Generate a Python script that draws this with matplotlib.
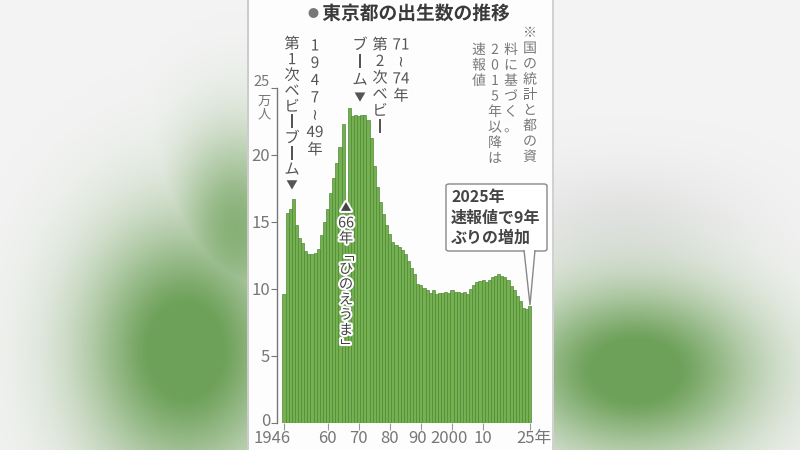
import numpy as np
import matplotlib
matplotlib.use('Agg')
import matplotlib.pyplot as plt
import matplotlib.patheffects as pe
from matplotlib.patches import FancyBboxPatch, Polygon
import matplotlib.transforms as mtransforms

plt.rcParams['font.family'] = ['Noto Sans CJK JP', 'DejaVu Sans']

# 東京都の出生数（万人）1946-2025
years = list(range(1946, 2026))
births = [
    9.6, 15.7, 16.0, 16.7, 14.8, 13.8, 13.4, 12.8, 12.6, 12.6,   # 1946-55
    12.7, 13.0, 14.0, 15.0, 16.0, 17.2, 18.3, 19.4, 20.6, 22.3,  # 1956-65
    16.2, 23.5, 22.9, 23.0, 22.9, 23.0, 23.0, 22.6, 21.3, 19.2,  # 1966-75
    17.6, 16.5, 15.6, 14.8, 14.1, 13.5, 13.3, 13.1, 12.9, 12.6,  # 1976-85
    12.1, 11.6, 11.1, 10.4, 10.3, 10.1, 9.9, 9.7, 9.9, 9.6,      # 1986-95
    9.7, 9.7, 9.8, 9.7, 9.9, 9.8, 9.8, 9.7, 9.8, 9.6,            # 1996-2005
    10.0, 10.3, 10.5, 10.6, 10.7, 10.5, 10.7, 10.9, 11.0, 11.1,  # 2006-15
    11.0, 10.9, 10.7, 10.2, 9.9, 9.5, 9.1, 8.6, 8.5, 8.7,        # 2016-25
]
xtick_years = [1946, 1960, 1970, 1980, 1990, 2000, 2010, 2025]
xtick_labels = ['1946', '60', '70', '80', '90', '2000', '10', '25年']
yticks = [0, 5, 10, 15, 20, 25]

W, H = 800, 450


def fx(x):
    return x / W


def fy(y):
    return 1 - y / H


fig = plt.figure(figsize=(8, 4.5), dpi=100)

# blurred background
bg_ax = fig.add_axes([0, 0, 1, 1], zorder=-10)
yy, xx = np.mgrid[0:H, 0:W]
base = np.full((H, W, 3), 0.955)
green = np.array([0.43, 0.63, 0.35])
g1 = np.exp(-((xx - 185) / 72.0) ** 2 / 2 - ((yy - 350) / 90.0) ** 2 / 2)
g1b = 0.7 * np.exp(-((xx - 235) / 45.0) ** 2 / 2 - ((yy - 230) / 70.0) ** 2 / 2)
g2 = np.exp(-((xx - 635) / 85.0) ** 2 / 2 - ((yy - 370) / 60.0) ** 2 / 2)
gray = 0.06 * np.exp(-((xx - 620) / 90.0) ** 2 / 2 - ((yy - 220) / 40.0) ** 2 / 2)
a = np.clip(1.15 * np.maximum(np.maximum(g1, g1b), g2), 0, 1)[..., None]
img = (base - gray[..., None]) * (1 - a) + green * a
img[:, 248:553, :] = 0.995
img[:, 247:249, :] = 0.8
img[:, 552:554, :] = 0.82
bg_ax.imshow(np.clip(img, 0, 1), aspect='auto', extent=[0, W, H, 0])
bg_ax.axis('off')

# main chart
ax = fig.add_axes([fx(277), fy(423), (540 - 277) / W, (423 - 88) / H])
ax.patch.set_alpha(0)
ax.bar(years, births, width=1.0, color='#74af50', edgecolor='#4f8a37', linewidth=0.5)
ax.set_xlim(1943.75, 2028.3)
ax.set_ylim(0, 25)

for s in ['top', 'right', 'bottom']:
    ax.spines[s].set_visible(False)
ax.spines['left'].set_color('#777777')
ax.spines['left'].set_linewidth(1.0)

ax.set_yticks(yticks)
ax.set_yticklabels(['0', '5', '10', '15', '20', '25'])
ax.tick_params(axis='y', length=4, color='#777777', labelsize=12, labelcolor='#777777', pad=1)
ax.set_xticks(xtick_years)
ax.set_xticklabels(xtick_labels)
ax.tick_params(axis='x', length=5, color='#999999', labelsize=12, labelcolor='#777777', pad=0)

shifts = {'1946': -12, '90': -3, '2000': -3, '25年': 4}
for lab in ax.get_xticklabels():
    if lab.get_text() in shifts:
        off = mtransforms.ScaledTranslation(shifts[lab.get_text()] / 100, 0, fig.dpi_scale_trans)
        lab.set_transform(lab.get_transform() + off)
ylabs = ax.get_yticklabels()
off25 = mtransforms.ScaledTranslation(0, 7 / 100, fig.dpi_scale_trans)
ylabs[-1].set_transform(ylabs[-1].get_transform() + off25)
ylabs[-1].set_fontsize(10.5)
off0 = mtransforms.ScaledTranslation(0, 3 / 100, fig.dpi_scale_trans)
ylabs[0].set_transform(ylabs[0].get_transform() + off0)

halo = [pe.withStroke(linewidth=3, foreground='white')]

fig.text(fx(264), fy(101), '万', fontsize=9.5, color='#777777', ha='center', va='center')
fig.text(fx(264), fy(115), '人', fontsize=9.5, color='#777777', ha='center', va='center')

# title
fig.text(fx(313), fy(14), '●', fontsize=8, color='#777777', ha='center', va='center')
fig.text(fx(416), fy(14), '東京都の出生数の推移', fontsize=13.5, fontweight='bold',
         color='#3a3a3a', ha='center', va='center', path_effects=halo)


def vtext(x, y0, step, tokens, size=11, color='#555555', weight='normal', rot=None):
    rot = rot or {}
    for i, t in enumerate(tokens):
        fs = size * 0.75 if t in ('▼', '▲') else size
        fig.text(fx(x), fy(y0 + i * step), t, fontsize=fs, color=color, fontweight=weight,
                 ha='center', va='center', rotation=rot.get(t, 0), path_effects=halo)


# baby boom annotations
vtext(315, 46, 17.3, ['1', '9', '4', '7', '≀', '49', '年'])
vtext(292, 44, 15.7, ['第', '1', '次', 'ベ', 'ビ', '丨', 'ブ', '丨', 'ム', '▼'])
vtext(401, 45, 17, ['71', '≀', '74', '年'])
vtext(380, 45, 16.5, ['第', '2', '次', 'ベ', 'ビ', '丨'])
vtext(360, 45, 17.5, ['ブ', '丨', 'ム', '▼'])

# hinoeuma
vtext(346, 208, 15.3, ['▲', '66', '年', '「', 'ひ', 'の', 'え', 'う', 'ま', '」'],
      size=10.3, color='#444444', rot={'「': -90, '」': -90})

# note
note_color = '#777777'
vtext(530, 33, 15.5, ['※', '国', 'の', '統', '計', 'と', '都', 'の', '資'], size=10, color=note_color)
vtext(511, 50, 15.5, ['料', 'に', '基', 'づ', 'く', '。'], size=10, color=note_color)
vtext(495, 50, 15.5, ['2', '0', '1', '5', '年', '以', '降', 'は'], size=10, color=note_color)
vtext(479, 50, 15.5, ['速', '報', '値'], size=10, color=note_color)

# callout box
box = FancyBboxPatch((fx(446), fy(251)), (547 - 446) / W, (251 - 184) / H,
                     boxstyle='round,pad=0,rounding_size=0.004', transform=fig.transFigure,
                     facecolor='white', edgecolor='#888888', linewidth=1.0, zorder=5)
fig.patches.append(box)
wedge = Polygon([(fx(524), fy(250)), (fx(530), fy(305)), (fx(535), fy(250))], closed=False,
                transform=fig.transFigure, facecolor='white', edgecolor='#888888',
                linewidth=1.0, zorder=6)
fig.patches.append(wedge)
for i, line in enumerate(['2025年', '速報値で9年', 'ぶりの増加']):
    fig.text(fx(451), fy(197 + i * 20.5), line, fontsize=11.5, fontweight='bold',
             color='#444444', ha='left', va='center', zorder=7)

fig.savefig('out.png', dpi=100)
